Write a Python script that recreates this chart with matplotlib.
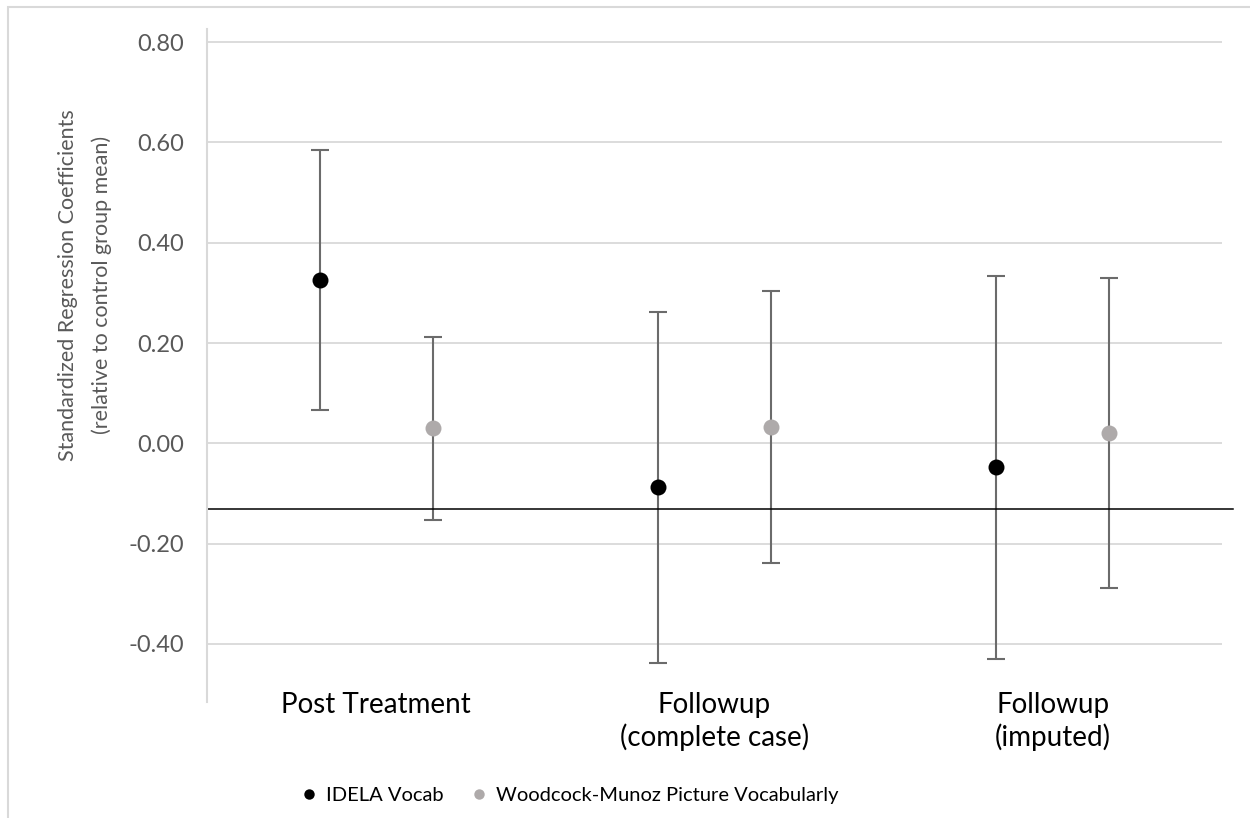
import numpy as np
import matplotlib.pyplot as plt
from matplotlib.patches import Rectangle
from matplotlib.lines import Line2D

plt.rcParams['font.family'] = ['Lato', 'DejaVu Sans']

# categories and estimates
categories = ['Post Treatment', 'Followup\n(complete case)', 'Followup\n(imputed)']
series = ['IDELA Vocab', 'Woodcock-Munoz Picture Vocabularly']

idela_coef = [0.326, -0.087, -0.048]
idela_low = [0.066, -0.437, -0.429]
idela_high = [0.585, 0.262, 0.334]

wm_coef = [0.031, 0.033, 0.021]
wm_low = [-0.153, -0.239, -0.289]
wm_high = [0.213, 0.304, 0.329]

ref_line = -0.130
yticks = [-0.4, -0.2, 0.0, 0.2, 0.4, 0.6, 0.8]

colors = ['#000000', '#AEAAAA']
err_color = '#6b6b6b'
text_gray = '#595959'

fig = plt.figure(figsize=(12.5, 8.18), dpi=100)
ax = fig.add_axes([0.1658, 0.1422, 0.8116, 0.822])

# border around chart area (only top/left visible in the picture)
fig.patches.append(Rectangle((8 / 1250, -0.05), 1.2, (1 - 7 / 818) + 0.05,
                             transform=fig.transFigure, fill=False,
                             edgecolor='#d9d9d9', linewidth=1.5))

x = np.arange(len(categories))
offset = 1 / 6

for i, (coef, low, high) in enumerate([(idela_coef, idela_low, idela_high),
                                       (wm_coef, wm_low, wm_high)]):
    coef = np.array(coef)
    yerr = [coef - np.array(low), np.array(high) - coef]
    xs = x - offset if i == 0 else x + offset
    ax.errorbar(xs, coef, yerr=yerr, fmt='none', ecolor=err_color,
                elinewidth=1.5, capsize=6.5, capthick=1.5, zorder=2)
    ax.plot(xs, coef, 'o', color=colors[i], markersize=11.5,
            markeredgewidth=0, zorder=3)

ax.axhline(ref_line, xmin=0, xmax=1.0115, color='black', linewidth=1.1,
           clip_on=False, zorder=2.5)

ax.set_xlim(-0.5, 2.5)
ax.set_ylim(-0.515, 0.8255)
ax.set_yticks(yticks)
ax.set_yticklabels(['%.2f' % v for v in yticks])
ax.set_xticks(x)
ax.set_xticklabels(categories, fontsize=20, linespacing=1.25)

ax.yaxis.grid(True, color='#d9d9d9', linewidth=1.3)
ax.set_axisbelow(True)
ax.tick_params(axis='y', length=0, labelsize=17, labelcolor=text_gray, pad=16.5)
ax.tick_params(axis='x', length=0, pad=-7)
for s in ['top', 'right', 'bottom']:
    ax.spines[s].set_visible(False)
ax.spines['left'].set_color('#d9d9d9')
ax.spines['left'].set_linewidth(1.5)

fig.text(85 / 1250, 1 - 285 / 818,
         'Standardized Regression Coefficients\n(relative to control group mean)',
         rotation=90, ha='center', va='center', fontsize=15.5,
         color=text_gray, linespacing=1.8)

handles = [Line2D([], [], marker='o', linestyle='none', color=c,
                  markersize=7.5, markeredgewidth=0) for c in colors]
fig.legend(handles, series, loc='center', bbox_to_anchor=(0.455, 0.028),
           ncol=2, frameon=False, fontsize=14.5, handletextpad=0.3,
           columnspacing=1.3, handlelength=1.0)

fig.savefig('out.png', dpi=100)
